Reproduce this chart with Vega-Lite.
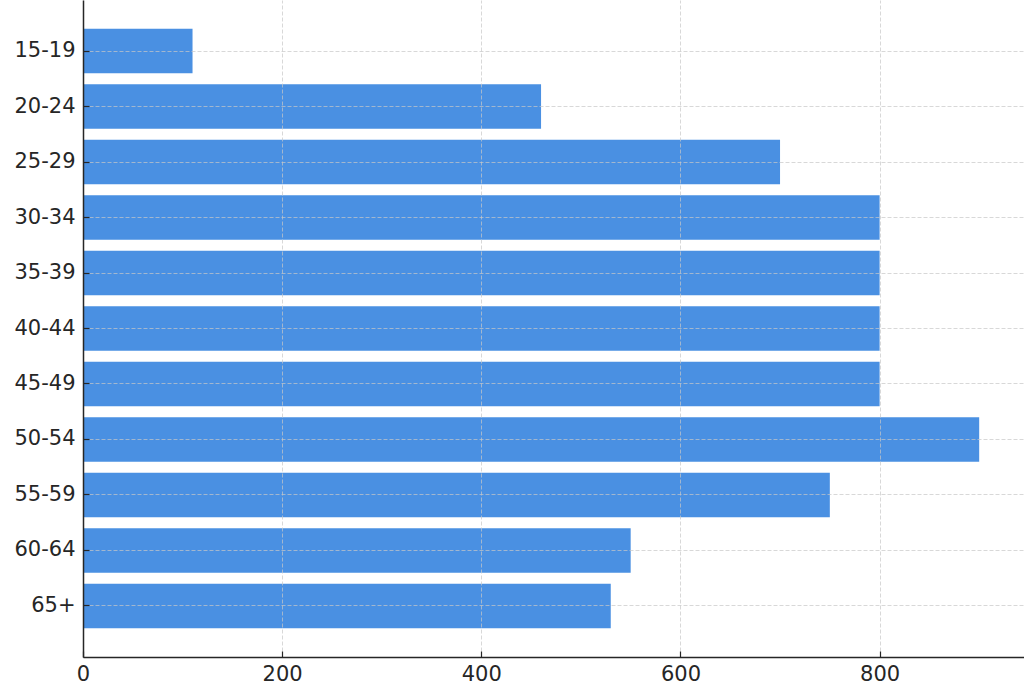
{
  "$schema": "https://vega.github.io/schema/vega-lite/v6.json",
  "width": 941,
  "height": 657,
  "autosize": "none",
  "padding": {"left": 83, "top": 0, "right": 0, "bottom": 32},
  "background": "white",
  "config": {"view": {"stroke": null}, "font": "DejaVu Sans"},
  "data": {"values": [
    {"age": "15-19", "count": 110},
    {"age": "20-24", "count": 460},
    {"age": "25-29", "count": 700},
    {"age": "30-34", "count": 800},
    {"age": "35-39", "count": 800},
    {"age": "40-44", "count": 800},
    {"age": "45-49", "count": 800},
    {"age": "50-54", "count": 900},
    {"age": "55-59", "count": 750},
    {"age": "60-64", "count": 550},
    {"age": "65+", "count": 530}
  ]},
  "mark": {"type": "bar", "color": "#4a90e2"},
  "encoding": {
    "y": {
      "field": "age", "type": "nominal", "sort": null,
      "scale": {"paddingInner": 0.2, "paddingOuter": 0.52},
      "axis": {
        "title": null, "labelFontSize": 21, "labelColor": "#262626",
        "domainColor": "#262626", "domainWidth": 1.5,
        "tickColor": "#262626", "tickSize": -6, "tickWidth": 1.2, "labelPadding": 14,
        "grid": true, "gridColor": "#c8c8c8", "gridDash": [4, 2], "gridOpacity": 0.7, "gridWidth": 1,
        "zindex": 1
      }
    },
    "x": {
      "field": "count", "type": "quantitative",
      "scale": {"domain": [0, 945], "nice": false},
      "axis": {
        "title": null, "values": [0, 200, 400, 600, 800], "labelFontSize": 21, "labelColor": "#262626",
        "labelFlush": false,
        "domainColor": "#262626", "domainWidth": 1.5,
        "tickColor": "#262626", "tickSize": -6, "tickWidth": 1.2, "labelPadding": 12,
        "grid": true, "gridColor": "#c8c8c8", "gridDash": [4, 2], "gridOpacity": 0.7, "gridWidth": 1,
        "zindex": 1
      }
    }
  }
}
